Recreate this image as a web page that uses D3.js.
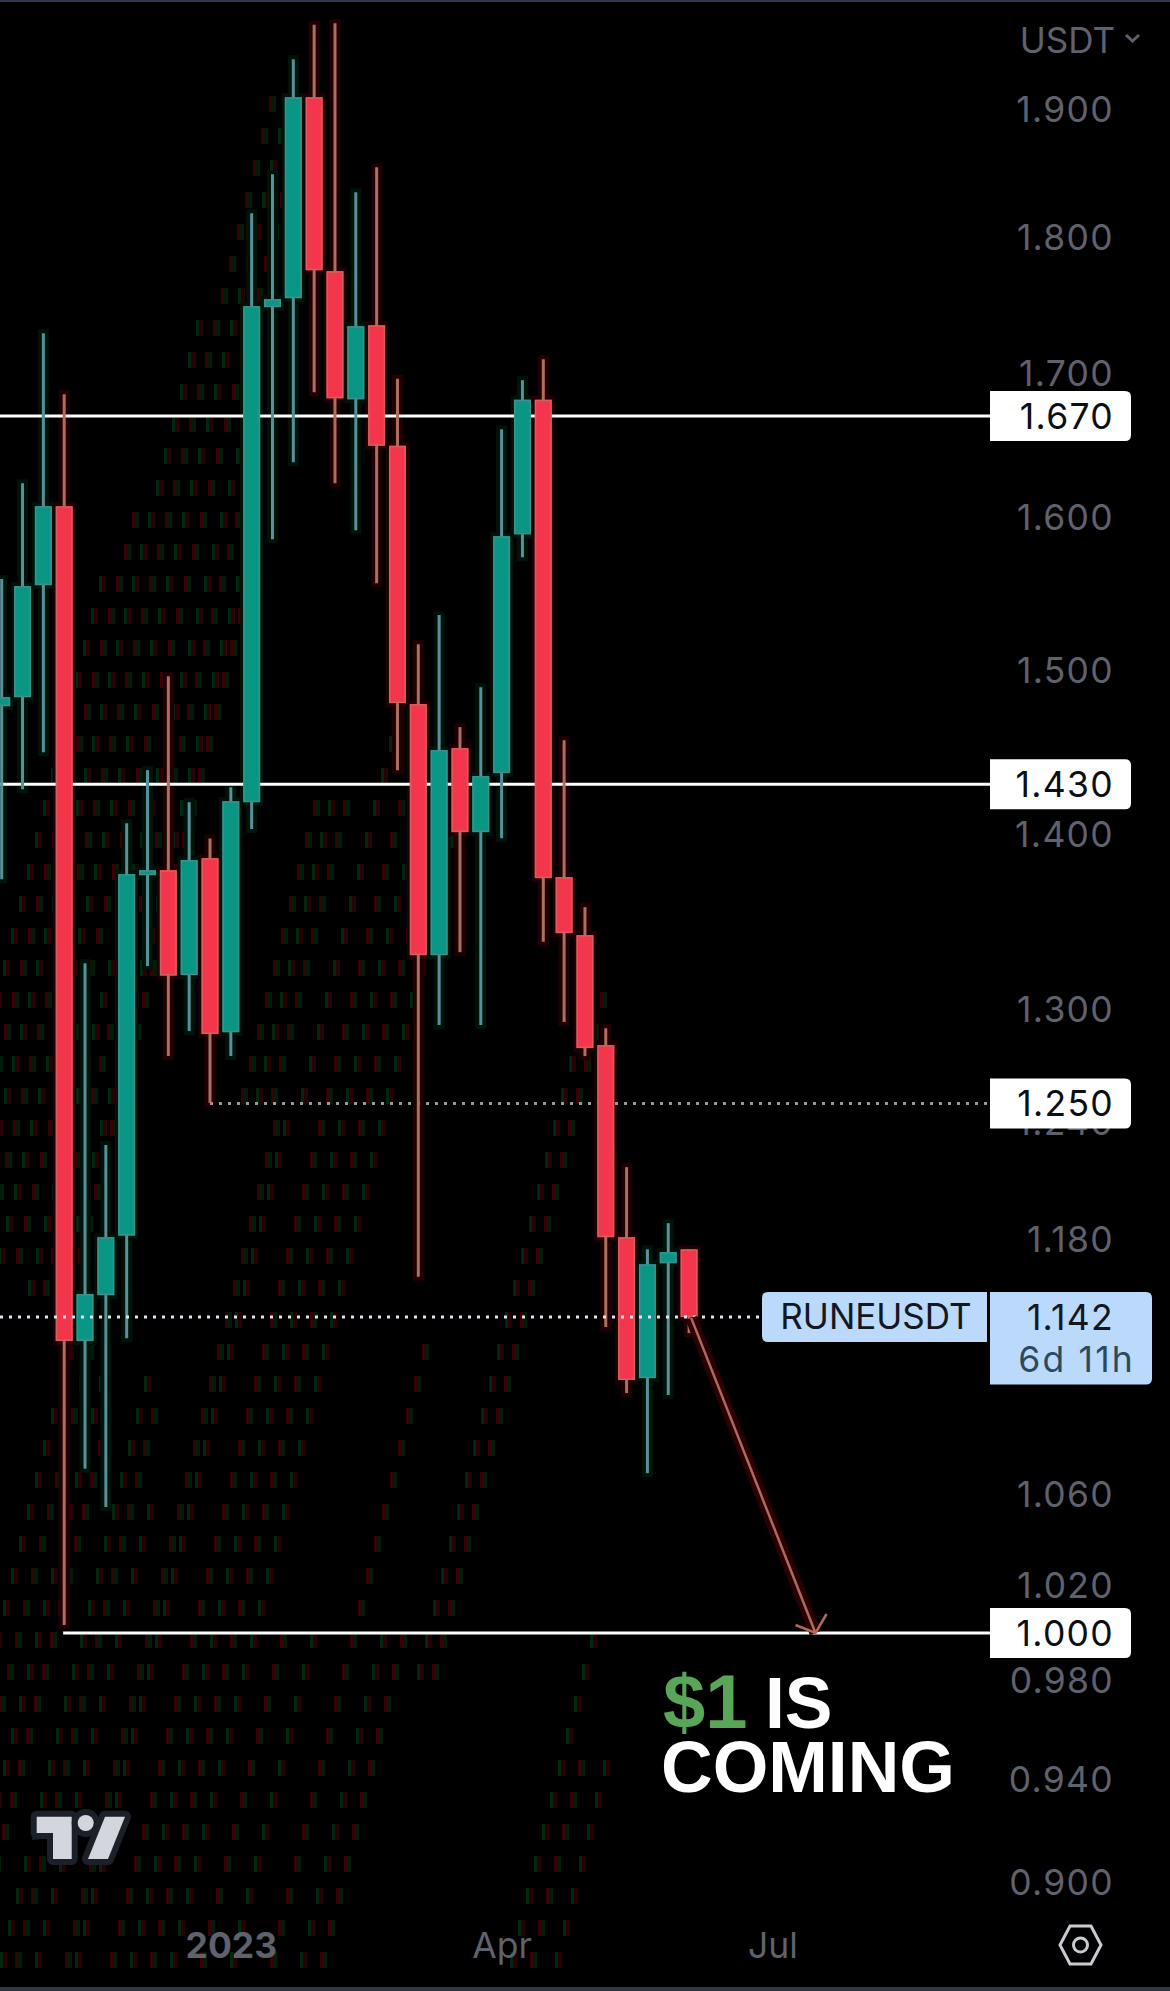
<!DOCTYPE html>
<html>
<head>
<meta charset="utf-8">
<style>
html,body{margin:0;padding:0;background:#000;}
svg{display:block;}
.axis path,.axis line{display:none;}
</style>
<script src="https://cdn.jsdelivr.net/npm/d3@7/dist/d3.min.js"></script>
</head>
<body>
<div id="chart"></div>
<script>
const W = 1170, H = 1991;

// Weekly RUNE/USDT candles
const opens  = [1.4778,1.4834,1.5551,1.6077,1.1309,1.1530,1.1823,1.3762,1.3791,1.3195,1.3861,1.2881,1.4192,1.7484,1.7550,1.9101,1.7751,1.6818,1.7351,1.6492,1.4791,1.3306,1.4519,1.4014,1.4367,1.5888,1.6815,1.3751,1.3419,1.2811,1.1815,1.1134,1.1686,1.1755];
const highs  = [1.5591,1.6233,1.7293,1.6854,1.3261,1.2283,1.4067,1.4385,1.4966,1.4192,1.3976,1.4282,1.8190,1.8491,1.9409,1.9693,1.9706,1.8351,1.8545,1.6965,1.5169,1.5356,1.4648,1.4897,1.6607,1.6954,1.7105,1.4568,1.3578,1.2903,1.2169,1.1755,1.1885,1.1755];
const lows   = [1.3739,1.4270,1.4494,1.0034,1.0717,1.0545,1.1323,1.3245,1.2752,1.2887,1.2502,1.2752,1.4032,1.5855,1.6378,1.6868,1.6233,1.5915,1.5564,1.4385,1.1620,1.2920,1.3323,1.2920,1.3978,1.5735,1.3381,1.2936,1.2752,1.1376,1.1064,1.0697,1.1055,1.1347];
const closes = [1.4834,1.5545,1.6077,1.1309,1.1535,1.1815,1.3768,1.3791,1.3192,1.3850,1.2871,1.4198,1.7491,1.7543,1.9101,1.7758,1.6825,1.7344,1.6492,1.4797,1.3306,1.4507,1.4014,1.4349,1.5875,1.6815,1.3745,1.3430,1.2795,1.1815,1.1125,1.1681,1.1741,1.1424];

const yTicks = [1.9,1.8,1.7,1.6,1.5,1.4,1.3,1.24,1.18,1.06,1.02,0.98,0.94,0.9];
const xTickIndex = [11,24,37];
const xTickLabels = ["2023","Apr","Jul"];

const levelPrices = [1.67,1.43,1.0];
const levelStartIndex = [-1,-1,2.95];
const dottedLevel = 1.25, dottedStartIndex = 10;
const lastPrice = 1.142;
const arrowFrom = [33.1,1.142], arrowTo = [39.07,1.0];
const symbol = "RUNEUSDT", countdown = "6d 11h", currency = "USDT";

// faint compression ghosting behind the chart: [intercept, first row, last row]
const ghostBands = [
 [245,560,1290],[262,500,1290],[278,300,1290],[295,104,1290],[312,136,1260],[330,200,1260],[350,400,1290],[365,450,1290],[382,520,1290],[392,600,1260],
 [405,1340,1990],[425,1340,1990],[445,1380,1990],[460,1420,1990],[490,1380,1990],[505,1400,1990],[525,1500,1990],[555,1100,1990],[565,1100,1990],
 [515,780,1100],[530,780,1100],[545,780,1100],[575,730,1100],
 [600,800,1990],[620,800,1990],[640,800,1990],[660,800,1990],[690,1640,1990],[720,1640,1990],[760,1350,1990],[790,1640,1990],[810,1640,1990],
 [835,1000,1700],[850,1000,1700],[1000,1640,1990],[1020,1760,1990],[1045,1760,1990]
];

const RED="#f4364c", GREEN="#0a9684", REDW="#ad7060", GREENW="#57919a";
const FONT="Inter, 'Noto Sans', sans-serif";
const TICK_SIZE=35.5, TICK_SP=1.3;

const x = d3.scaleLinear().domain([0,40]).range([1.7,834.9]);
const y = d3.scaleLog().domain([1,1.67]).range([1633,416]);

const svg = d3.select("#chart").append("svg").attr("width",W).attr("height",H).attr("viewBox",`0 0 ${W} ${H}`);
svg.append("rect").attr("width",W).attr("height",H).attr("fill","#000");

// ghost texture
const g0 = svg.append("g");
const rowYs = d3.range(104,1991,32);
ghostBands.forEach((b,bi)=>{
  rowYs.filter(r=>r>=b[1]&&r<=b[2]).forEach(r=>{
    const gx = b[0]-0.25*r;
    g0.append("rect").attr("x",gx).attr("y",r-8).attr("width",3).attr("height",16).attr("fill",bi%2?"#3a0008":"#00270f");
    g0.append("rect").attr("x",gx+3).attr("y",r-8).attr("width",4).attr("height",16).attr("fill",bi%2?"#001d0a":"#2a0004");
  });
});

const candles = d3.range(opens.length).map(i=>({i,o:opens[i],h:highs[i],l:lows[i],c:closes[i],up:closes[i]>opens[i]}));
const BW=17;

// dark halos around the candles lie under everything else
const gh = svg.append("g");
gh.selectAll("rect.hw").data(candles).join("rect").attr("class","hw")
  .attr("x",d=>x(d.i)-5.5).attr("width",11)
  .attr("y",d=>y(d.h)-4).attr("height",d=>y(d.l)-y(d.h)+8)
  .attr("fill",d=>d.up?"#001309":"#200002");
gh.selectAll("rect.hb").data(candles).join("rect").attr("class","hb")
  .attr("x",d=>x(d.i)-BW/2-3).attr("width",BW+6)
  .attr("y",d=>y(Math.max(d.o,d.c))-4).attr("height",d=>Math.abs(y(d.o)-y(d.c))+8)
  .attr("fill",d=>d.up?"#001309":"#200002");

// dotted 1.250 level sits under the candles
svg.append("line").attr("x1",x(dottedStartIndex)).attr("x2",990).attr("y1",y(dottedLevel)).attr("y2",y(dottedLevel))
  .attr("stroke","#9a9a9a").attr("stroke-width",3).attr("stroke-dasharray","3 6");

// solid levels
svg.append("g").selectAll("line").data(levelPrices).join("line")
  .attr("x1",(d,i)=>x(levelStartIndex[i])<3&&i<2?0:x(levelStartIndex[i])).attr("x2",990)
  .attr("y1",d=>y(d)).attr("y2",d=>y(d)).attr("stroke","#fff").attr("stroke-width",3);

// candles
const gc = svg.append("g");
gc.selectAll("line.w").data(candles).join("line").attr("class","w")
  .attr("x1",d=>x(d.i)).attr("x2",d=>x(d.i)).attr("y1",d=>y(d.h)).attr("y2",d=>y(d.l))
  .attr("stroke",d=>d.up?GREENW:REDW).attr("stroke-width",3);
gc.selectAll("rect.b").data(candles).join("rect").attr("class","b")
  .attr("x",d=>x(d.i)-BW/2).attr("width",BW)
  .attr("y",d=>y(Math.max(d.o,d.c))).attr("height",d=>Math.abs(y(d.o)-y(d.c)))
  .attr("fill",d=>d.up?GREEN:RED);
gc.selectAll("rect.e").data(candles).join("rect").attr("class","e")
  .attr("x",d=>x(d.i)-BW/2+.75).attr("width",BW-1.5)
  .attr("y",d=>y(Math.max(d.o,d.c))+.75).attr("height",d=>Math.max(0,Math.abs(y(d.o)-y(d.c))-1.5))
  .attr("fill","none").attr("stroke",d=>d.up?"#4f8f8e":"#cf6a62").attr("stroke-width",1.5).attr("stroke-opacity",.8);

// last price dotted line
svg.append("line").attr("x1",0).attr("x2",760).attr("y1",y(lastPrice)-1).attr("y2",y(lastPrice)-1)
  .attr("stroke","#dfe3f3").attr("stroke-width",3).attr("stroke-dasharray","3 6");

// arrow drawing
const ax1=x(arrowFrom[0]), ay1=y(arrowFrom[1]), ax2=x(arrowTo[0]), ay2=y(arrowTo[1]);
svg.append("line").attr("x1",ax1).attr("y1",ay1).attr("x2",ax2).attr("y2",ay2).attr("stroke","#2a0004").attr("stroke-width",12);
svg.append("path").attr("fill","none").attr("stroke","#b06a58").attr("stroke-width",2.5)
  .attr("d",`M${ax1},${ay1}L${ax2},${ay2}M${ax2-20},${ay2-8}L${ax2},${ay2}L${ax2+11},${ay2-19}`);

// y axis
const yAxis = d3.axisRight(y).tickValues(yTicks).tickSize(0).tickPadding(0).tickFormat(d3.format(".3f"));
const gy = svg.append("g").attr("class","axis").attr("transform","translate(1114,0)").call(yAxis);
gy.selectAll("text").attr("text-anchor","end").attr("x",0).attr("dy","0.325em").attr("font-family",FONT).attr("font-size",TICK_SIZE).attr("fill","#5f616c").attr("letter-spacing",TICK_SP);

// currency
svg.append("text").text(currency).attr("x",1115).attr("y",53).attr("text-anchor","end").attr("font-family",FONT).attr("font-size",35).attr("fill","#5f616c");
svg.append("path").attr("d","M1126,35L1132.5,41L1139,35").attr("fill","none").attr("stroke","#5f616c").attr("stroke-width",3);

// x axis
const xAxis = d3.axisBottom(x).tickValues(xTickIndex).tickSize(0).tickPadding(0).tickFormat((d,i)=>xTickLabels[i]);
const gx = svg.append("g").attr("class","axis").attr("transform","translate(0,1958)").call(xAxis);
gx.selectAll("text").attr("y",0).attr("dy",0).attr("font-family",FONT).attr("font-size",35.5).attr("fill","#5f616c")
  .attr("font-weight",(d,i)=>i===0?700:400);

// price labels
function rrect(x0,y0,w,h,tl,tr,br,bl){
  return `M${x0+tl},${y0}H${x0+w-tr}Q${x0+w},${y0} ${x0+w},${y0+tr}V${y0+h-br}Q${x0+w},${y0+h} ${x0+w-br},${y0+h}H${x0+bl}Q${x0},${y0+h} ${x0},${y0+h-bl}V${y0+tl}Q${x0},${y0} ${x0+tl},${y0}Z`;
}
const labels = [1.67,1.43,1.25,1.0];
labels.forEach(p=>{
  const c=y(p);
  svg.append("path").attr("d",rrect(990,c-25,141,50,0,6,6,0)).attr("fill","#fff");
  svg.append("text").text(p.toFixed(3)).attr("x",1114).attr("y",c+13).attr("text-anchor","end")
    .attr("font-family",FONT).attr("font-size",TICK_SIZE).attr("fill","#0b0e14").attr("letter-spacing",TICK_SP);
});
const BLUE="#bbd9fb";
const lc=y(lastPrice)-1;
svg.append("path").attr("d",rrect(762,lc-25,225,50,6,0,0,6)).attr("fill",BLUE);
svg.append("text").text(symbol).attr("x",876).attr("y",lc+12.5).attr("text-anchor","middle").attr("font-family",FONT).attr("font-size",35).attr("fill","#131722");
svg.append("path").attr("d",rrect(990,lc-25,162,92.5,0,6,6,0)).attr("fill",BLUE);
svg.append("text").text(lastPrice.toFixed(3)).attr("x",1114).attr("y",lc+13).attr("text-anchor","end").attr("font-family",FONT).attr("font-size",TICK_SIZE).attr("fill","#131722").attr("letter-spacing",TICK_SP);
svg.append("text").text(countdown).attr("x",1135).attr("y",lc+55).attr("text-anchor","end").attr("font-family",FONT).attr("font-size",35.5).attr("fill","#2b4a5c").attr("letter-spacing",2.2);

// annotation
const note = svg.append("g").attr("font-family","'Liberation Sans', Arial, sans-serif").attr("font-weight",700);
note.append("text").attr("x",663).attr("y",1728).attr("fill","#5aa658").attr("font-size",76).text("$1");
note.append("text").attr("x",765).attr("y",1728).attr("fill","#fff").attr("font-size",71.5).text("IS");
note.append("text").attr("x",661).attr("y",1792).attr("fill","#fff").attr("font-size",71.5).text("COMING");

// TradingView logo
const lg = svg.append("g").attr("fill","#d4d6de").attr("stroke","#1c2029").attr("stroke-width",12).attr("stroke-linejoin","round").attr("paint-order","stroke");
lg.append("path").attr("d","M36.7,1816.7H71.7V1859H53V1833H36.7Z");
lg.append("circle").attr("cx",85.7).attr("cy",1823).attr("r",8);
lg.append("path").attr("d","M105,1816.7H125L108,1859H88Z");

// settings icon
const ic = svg.append("g").attr("fill","none").attr("stroke","#c9cbd3").attr("stroke-width",3);
ic.append("path").attr("d","M1060,1945L1070,1926H1091L1101,1945L1091,1964H1070Z");
ic.append("circle").attr("cx",1080.5).attr("cy",1945).attr("r",7);

// frame bars
svg.append("rect").attr("x",0).attr("y",0).attr("width",W).attr("height",2).attr("fill","#32364a");
svg.append("rect").attr("x",0).attr("y",1987).attr("width",W).attr("height",4).attr("fill","#32364a");
</script>
</body>
</html>
